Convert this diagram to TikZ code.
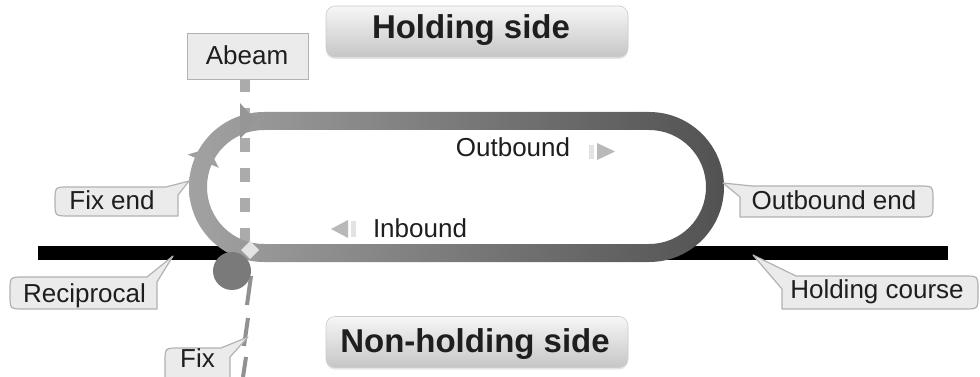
\documentclass[tikz,border=0pt]{standalone}
\usepackage{fontspec}
\setmainfont{Liberation Sans}
\usetikzlibrary{shadows}
\definecolor{cfill}{HTML}{EBEBEB}
\definecolor{cline}{HTML}{B2B2B2}
\definecolor{trackA}{HTML}{A2A2A2}
\definecolor{trackB}{HTML}{7E7E7E}
\definecolor{trackC}{HTML}{525252}
\definecolor{abeamc}{HTML}{ABABAB}
\definecolor{fixc}{HTML}{7A7A7A}
\definecolor{txt}{HTML}{1E1E1E}
\definecolor{headtop}{HTML}{F6F6F6}
\definecolor{headbot}{HTML}{C6C6C6}
\definecolor{arrowc}{HTML}{969696}
\begin{document}
\begin{tikzpicture}[x=1pt,y=-1pt,
  lbl/.style={font=\fontsize{26}{30}\selectfont, text=txt, inner sep=0pt, anchor=base},
  head/.style={font=\bfseries\fontsize{33}{38}\selectfont, text=txt, inner sep=0pt, anchor=base},
  headbox/.style={rounded corners=9pt, top color=headtop, bottom color=headbot, draw=gray!40, line width=0.6pt,
     minimum width=302pt, minimum height=51pt, inner sep=0pt,
     drop shadow={opacity=0.2,shadow xshift=0pt,shadow yshift=-2pt}},
  abeambox/.style={fill=cfill, draw=cline, line width=1pt, minimum width=121pt, minimum height=46pt, inner sep=0pt},
  callout/.style={fill=cfill, draw=cline, line width=1.2pt, line join=round},
  marker/.style={fill=gray!55, draw=none},
  markbar/.style={fill=gray!22, draw=none},
]
\useasboundingbox (0,0) rectangle (980,377);
\fill[white] (0,0) rectangle (980,377);

% holding course
\fill[black] (38,246) rectangle (948,260);

% abeam line (behind the track)
\draw[abeamc, line width=10pt, dash pattern=on 14pt off 16pt] (245,78) -- (245,244);

% racetrack
\shade[left color=trackA, middle color=trackB, right color=trackC, even odd rule]
  [rounded corners=74.9pt] (189,112) rectangle (724,262)
  [rounded corners=56.9pt] (207,130) rectangle (706,244);

% arrowheads on the track
\fill[arrowc] (240,103) -- (256,121) -- (240,139) -- cycle;
\fill[arrowc!90!white] (187.6,154.6) -- (208.7,148.3) -- (218.8,167.8) -- cycle;

% abeam line below the fix
\draw[abeamc!85!black, line width=4pt] (251,276) -- (247,305);
\draw[abeamc!85!black, line width=4pt] (248,318) -- (244,346);
\draw[abeamc!85!black, line width=4pt] (246,357) -- (243,377);

% fix
\fill[fixc] (232,271) circle (19pt);
\fill[gray!22] (250,241) -- (259,250) -- (250,259) -- (241,250) -- cycle;

% direction markers
\fill[markbar] (589,145) rectangle (594,159);
\fill[marker] (597,143) -- (615,151.5) -- (597,160) -- cycle;
\fill[marker] (331,229) -- (348,220) -- (348,238) -- cycle;
\fill[markbar] (351,221) rectangle (356,237);

% headings
\node[headbox] (holdbox) at (477,31.5) {};
\node[head] (hold) at (471,39) {Holding side};
\node[headbox] (nonholdbox) at (477,342) {};
\node[head] (nonhold) at (475,352) {Non-holding side};

% abeam box
\node[abeambox] (abeambx) at (247.5,56.5) {};
\node[lbl] (abeam) at (247,65) {Abeam};

% callouts
\draw[callout] (69,187) -- (166,187) -- (189,181) -- (178,195) -- (178,216) -- (69,216)
  .. controls (55,216) .. (55,202) -- (55,201) .. controls (55,187) .. (69,187) -- cycle;
\node[lbl] (fixend) at (112,209) {Fix end};

\draw[callout] (24,277) -- (147,277) -- (173,256) -- (157,282) -- (157,309) -- (24,309)
  .. controls (10,309) .. (10,295) -- (10,291) .. controls (10,277) .. (24,277) -- cycle;
\node[lbl] (recip) at (84.5,302) {Reciprocal};

\draw[callout] (179,348) -- (221,348) -- (248,337) -- (230,357) -- (230,380) -- (165,380)
  -- (165,362) .. controls (165,348) .. (179,348) -- cycle;
\node[lbl] (fix) at (197.5,367) {Fix};

\draw[callout] (919,186) .. controls (933,186) .. (933,200) -- (933,203) .. controls (933,217) .. (919,217)
  -- (740,217) -- (740,197) -- (723,183) -- (752,186) -- cycle;
\node[lbl] (outend) at (834,209) {Outbound end};

\draw[callout] (964,276) .. controls (978,276) .. (978,290) -- (978,295) .. controls (978,309) .. (964,309)
  -- (782,309) -- (782,289) -- (753,255) -- (796,276) -- cycle;
\node[lbl] (holdcourse) at (877,298) {Holding course};

% leg labels
\node[lbl] (outbound) at (513,157) {Outbound};
\node[lbl] (inbound) at (420,237) {Inbound};
\end{tikzpicture}
\end{document}
